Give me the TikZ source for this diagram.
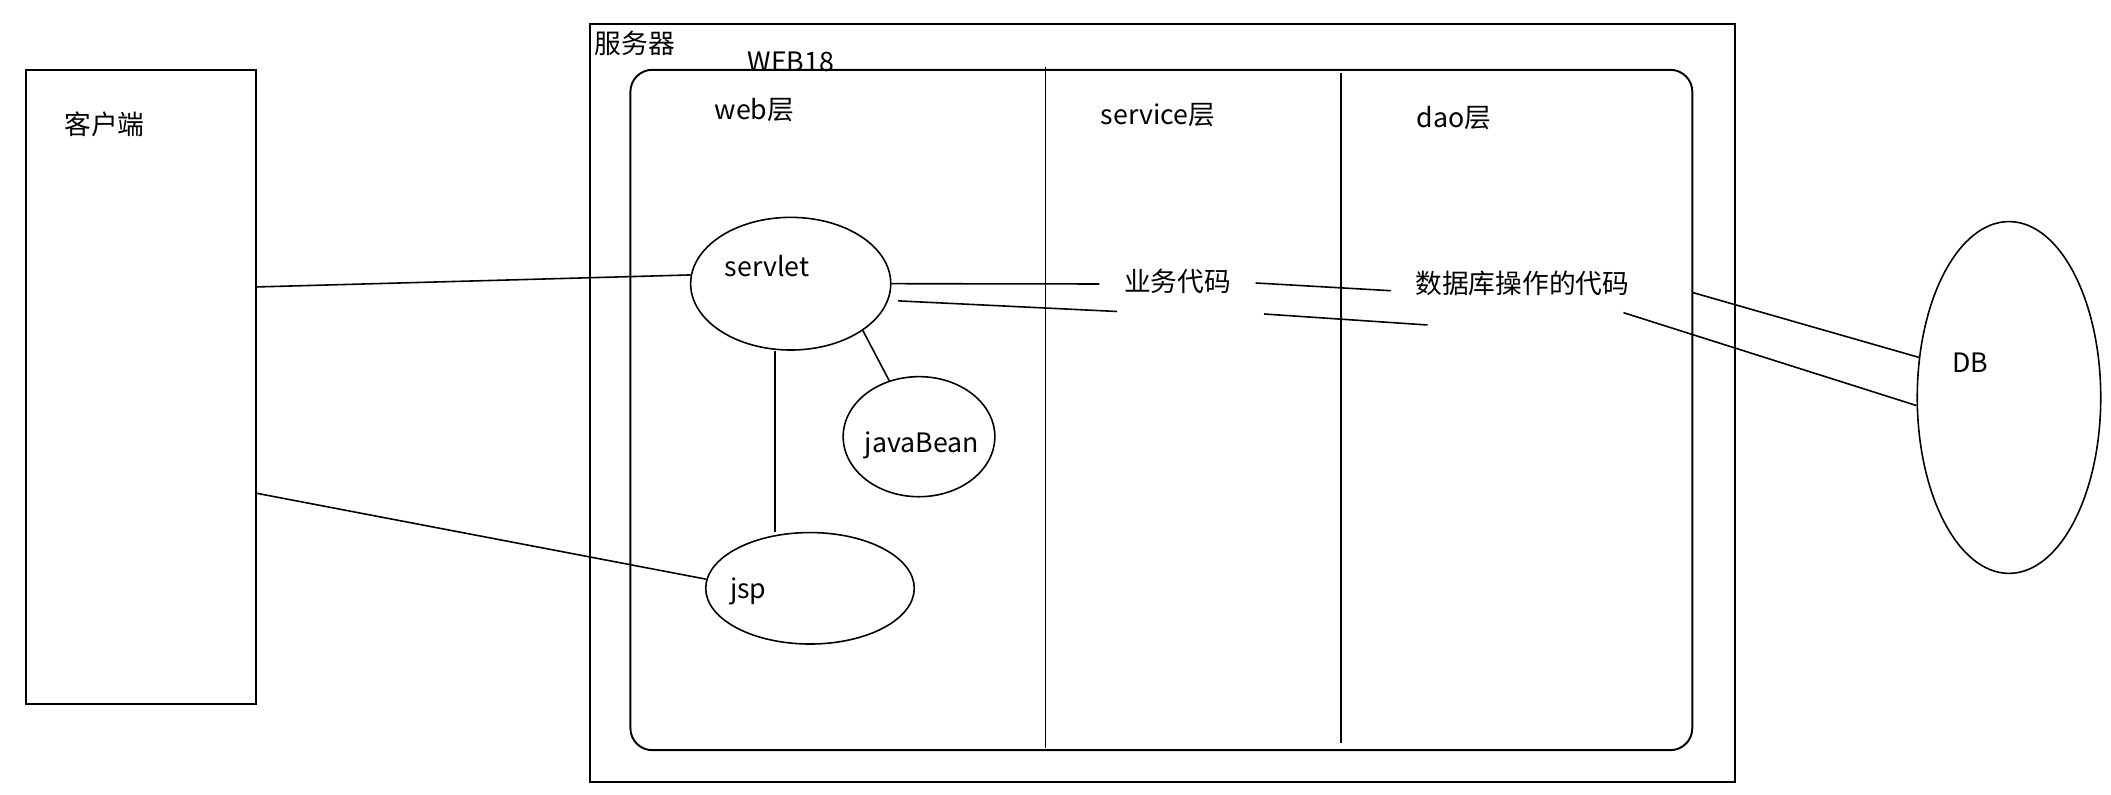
\documentclass[tikz,border=0pt]{standalone}
\usepackage{fontspec}
\setmainfont{Noto Sans CJK SC}
\usetikzlibrary{shapes.geometric, positioning}

\begin{document}
\begin{tikzpicture}[
    x=0.01cm, y=-0.01cm,
    panel/.style={rectangle, draw, line width=0.55pt, inner sep=0pt},
    bubble/.style={ellipse, draw, line width=0.45pt, inner sep=0pt},
    lbl/.style={font=\fontsize{7.6}{9}\selectfont, inner sep=1pt},
    codelbl/.style={lbl, inner xsep=0.24cm},
    conn/.style={line width=0.45pt}
]
    \useasboundingbox (0,0) rectangle (2111,795);

    % Boxes
    \node[panel, minimum width=2.304cm, minimum height=6.34cm] (client) at (140.8,387) {};
    \node[panel, minimum width=11.44cm, minimum height=7.577cm] (server) at (1162.5,402.85) {};
    \node[panel, rounded corners=0.22cm, minimum width=10.613cm, minimum height=6.8cm] (web18) at (1161.35,410) {};

    % Layer dividers
    \draw[conn] (1045.7,67) -- (1045.7,748);
    \draw[conn] (1341,72.7) -- (1341,742.7);

    % Ellipses
    \node[bubble, minimum width=2cm, minimum height=1.326cm] (servlet) at (790.7,283.7) {};
    \node[bubble, minimum width=1.516cm, minimum height=1.2cm] (javabean) at (919,436.7) {};
    \node[bubble, minimum width=2.084cm, minimum height=1.114cm] (jsp) at (810,588.3) {};
    \node[bubble, minimum width=1.834cm, minimum height=3.516cm] (db) at (2009,397.5) {};

    % Labels
    \node[lbl] (clientlbl) at (104.4,124) {客户端};
    \node[lbl] (serverlbl) at (635,43) {服务器};
    \node[lbl] (web18lbl) at (791,61.5) {WEB18};
    \node[lbl] (weblayer) at (754.5,110) {web层};
    \node[lbl] (servicelayer) at (1158,115) {service层};
    \node[lbl] (daolayer) at (1454,118) {dao层};
    \node[lbl] (servletlbl) at (767,266) {servlet};
    \node[lbl] (javabeanlbl) at (921.7,445.5) {javaBean};
    \node[lbl] (jsplbl) at (748.3,591) {jsp};
    \node[lbl] (dblbl) at (1970,363) {DB};
    \node[codelbl] (biz) at (1177.5,281) {业务代码};
    \node[codelbl] (daocode) at (1522.4,283) {数据库操作的代码};

    % Loose ends
    \coordinate (lowA) at (1117,311.5);
    \coordinate (lowB) at (1264,314);
    \coordinate (lowC) at (1427.5,325);
    \coordinate (dbA) at (1692.5,292.5);
    \coordinate (dbB) at (1623.5,312.7);

    % Lines
    \draw[conn] ([yshift=1cm]client.east) -- (servlet.175);
    \draw[conn] ([yshift=-1.063cm]client.east) -- (jsp.175);
    \draw[conn] (servlet.east) -- ([yshift=-0.03cm]biz.west);
    \draw[conn] ([yshift=-0.02cm]biz.east) -- ([yshift=-0.077cm]daocode.west);
    \draw[conn] ([xshift=0.1cm]servlet.-10) -- (lowA);
    \draw[conn] (lowB) -- (lowC);
    \draw[conn] (servlet.-33) -- (javabean.118);
    \draw[conn] ([xshift=-0.157cm]servlet.south) -- ([xshift=-0.157cm]servlet.south |- jsp.north);
    \draw[conn] (dbA) -- (db.156);
    \draw[conn] (dbB) -- (db.185);

\end{tikzpicture}
\end{document}
